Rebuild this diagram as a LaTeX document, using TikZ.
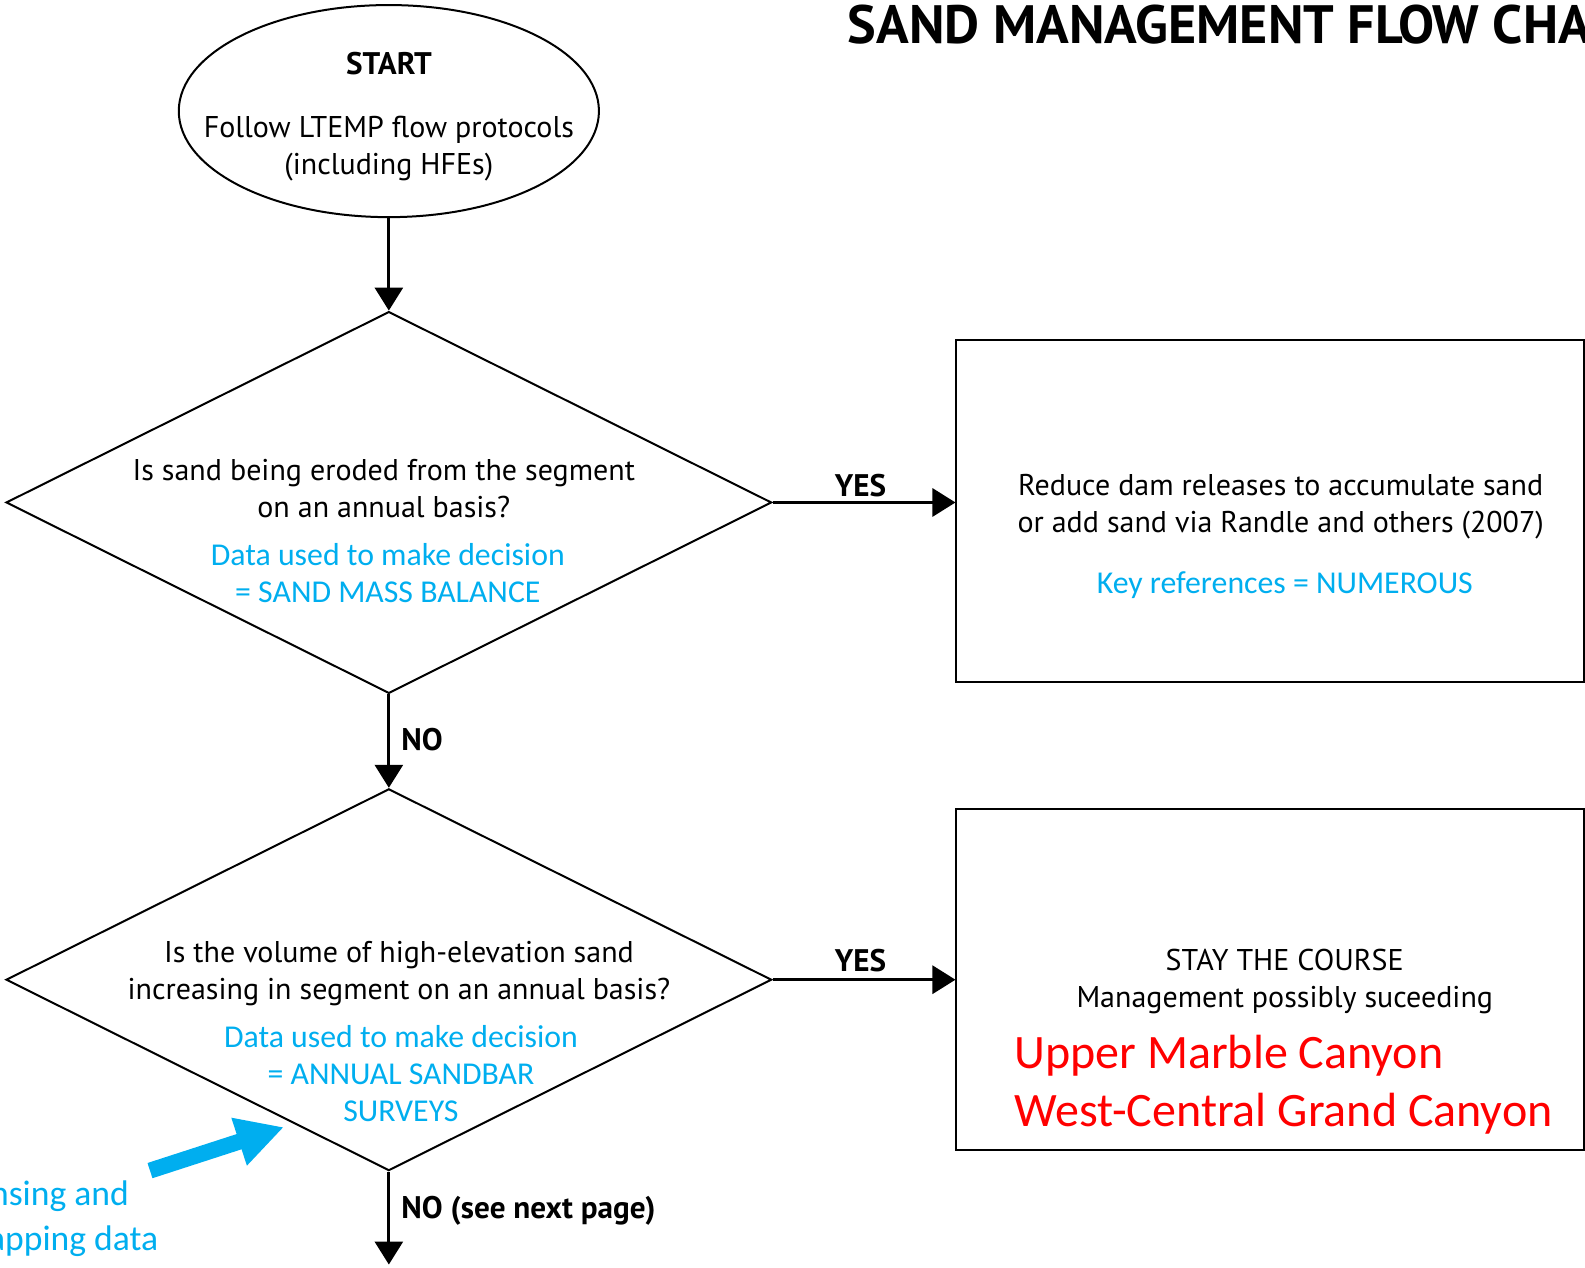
\documentclass[tikz,border=0pt]{standalone}
\usepackage{fontspec}
\setmainfont{PT Sans}
\newfontfamily\calibrifont{Carlito}
\usetikzlibrary{shapes.geometric,arrows.meta}
\newlength{\du}
\setlength{\du}{0.505pt}
\definecolor{datablue}{rgb}{0.000000, 0.682353, 0.937255}
\definecolor{sitered}{rgb}{1.000000, 0.000000, 0.000000}
\tikzset{
  decision/.style={diamond, draw, line width=1pt, minimum width=758\du, minimum height=378\du, inner sep=0pt},
  actionbox/.style={rectangle, draw, line width=1pt, minimum width=621\du, minimum height=338\du, inner sep=0pt},
  flowline/.style={line width=1.5pt, -{Triangle[length=11.5pt,width=14pt]}},
  bigblue/.style={line width=8pt, datablue, -{Triangle[length=23.5pt,width=23.5pt]}},
  plaintext/.style={font=\fontsize{15}{18.5}\selectfont, align=center, inner sep=0pt},
  datatext/.style={font=\calibrifont\fontsize{15.9}{18.5}\selectfont, text=datablue, align=center, inner sep=0pt},
  answer/.style={font=\bfseries\fontsize{15.6}{17}\selectfont, inner sep=0pt},
  inputtext/.style={anchor=east, inner sep=0pt, text=datablue, font=\calibrifont\fontsize{17.8}{22.5}\selectfont},
}
\begin{document}
\begin{tikzpicture}
\pgftransformxscale{1.000000}
\pgftransformyscale{-1.000000}
\useasboundingbox (0\du,0\du) rectangle (1569.3\du,1254.5\du);
\clip (0\du,0\du) rectangle (1569.3\du,1254.5\du);
% title
\node[anchor=base west, inner sep=0pt, font=\bfseries\fontsize{27}{30}\selectfont] (title) at (839\du,42.6\du){SAND MANAGEMENT FLOW CHART};
% start
\node[ellipse, draw, line width=1pt, minimum width=416\du, minimum height=210\du, inner sep=0pt] (start) at (385\du,110\du){};
\node[plaintext, font=\bfseries\fontsize{15.6}{18.5}\selectfont] (starttitle) at (385\du,63\du){START};
\node[plaintext] (starttext) at (385\du,147\du){Follow LTEMP flow protocols\\(including HFEs)};
% first question
\node[decision] (q1) at (385\du,497.5\du){};
\node[plaintext] (q1text) at (380\du,484\du){Is sand being eroded from the segment\\on an annual basis?};
\node[datatext] (q1data) at (384\du,567\du){Data used to make decision\\= SAND MASS BALANCE};
\node[actionbox] (box1) at (1257.5\du,506\du){};
\node[plaintext] (box1text) at (1268\du,502\du){Reduce dam releases to accumulate sand\\or add sand via Randle and others (2007)};
\node[datatext] (box1data) at (1272\du,579\du){Key references = NUMEROUS};
% second question
\node[decision] (q2) at (385\du,970\du){};
\node[plaintext] (q2text) at (395\du,964\du){Is the volume of high-elevation sand\\increasing in segment on an annual basis?};
\node[datatext] (q2data) at (397\du,1063\du){Data used to make decision\\= ANNUAL SANDBAR\\SURVEYS};
\node[actionbox] (box2) at (1257.5\du,970\du){};
\node[plaintext] (box2text) at (1272\du,972\du){STAY THE COURSE\\Management possibly suceeding};
\node[anchor=west, align=left, inner sep=0pt, text=sitered, font=\calibrifont\fontsize{24}{28.8}\selectfont] (sites) at (1004\du,1074\du){Upper Marble Canyon\\West-Central Grand Canyon};
% connectors
\draw[flowline] (start) -- (q1);
\draw[flowline] (q1) -- (q2);
\draw[flowline] (q1.east) -- (q1.east -| box1.west);
\draw[flowline] (q2.east) -- (q2.east -| box2.west);
\coordinate (nextpage) at (385\du,1252\du);
\draw[flowline] (q2) -- (nextpage);
\node[answer] (yes1) at (852\du,481\du){YES};
\node[answer] (yes2) at (852\du,951\du){YES};
\node[answer, anchor=west] (no1) at (397\du,732\du){NO};
\node[answer, anchor=west] (no2) at (397\du,1199\du){NO (see next page)};
% remote sensing input
\coordinate (rstail) at (148.5\du,1159\du);
\coordinate (rstip) at (281\du,1116\du);
\draw[bigblue] (rstail) -- (rstip);
\node[inputtext] (rsline1) at (128\du,1184\du){sensing and};
\node[inputtext] (rsline2) at (157\du,1229\du){mapping data};
\end{tikzpicture}
\end{document}
